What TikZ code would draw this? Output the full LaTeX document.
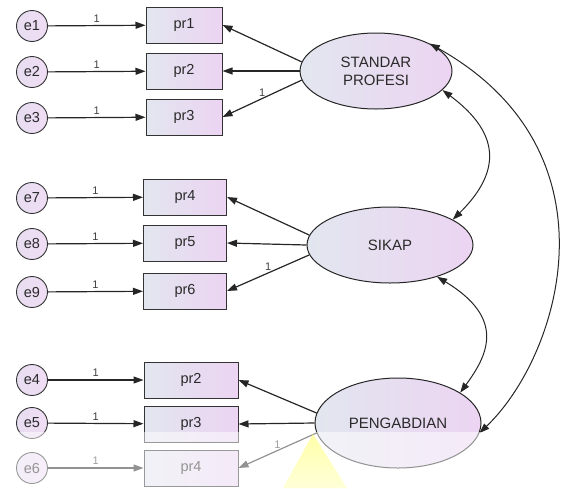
\documentclass[tikz,border=0pt]{standalone}
\usepackage{fontspec}
\setmainfont{Liberation Sans}
\usetikzlibrary{arrows.meta,shapes.geometric}
\definecolor{lblue}{HTML}{E2E6EF}
\definecolor{lpurp}{HTML}{ECD4F2}
\definecolor{txt}{HTML}{2A2A2A}
\begin{document}
\begin{tikzpicture}[x=1pt,y=-1pt,
  every node/.style={text=txt},
  err/.style={circle, draw=black!80, line width=0.9pt, minimum size=31pt, inner sep=0pt,
    left color=lblue!50!lpurp, right color=lpurp!80!white, font=\fontsize{14.5}{16}\selectfont},
  obs/.style={rectangle, draw=black!80, line width=1pt, minimum height=36pt, inner sep=0pt,
    left color=lblue, right color=lpurp, font=\fontsize{14.5}{16}\selectfont},
  lat/.style={ellipse, draw=black!85, line width=1pt, inner sep=0pt, align=center,
    left color=lblue, right color=lpurp, font=\fontsize{15}{18}\selectfont},
  arr/.style={-{Triangle[length=10pt,width=7pt]}, line width=1.2pt, draw=black!85},
  cov/.style={{Triangle[length=10pt,width=7pt]}-{Triangle[length=10pt,width=7pt]}, line width=1pt, draw=black!85},
  one/.style={font=\fontsize{11}{11}\selectfont, inner sep=1.5pt, text=black!75}
]
\useasboundingbox (0,0) rectangle (564,488);

% latent variables
\node[lat, minimum width=152pt, minimum height=76pt] (sp) at (376,71) {STANDAR\\PROFESI};
\node[lat, minimum width=166pt, minimum height=76pt] (sk) at (390,245) {SIKAP};
\node[lat, minimum width=166pt, minimum height=90pt] (pg) at (398,423) {PENGABDIAN};

% top group
\node[obs, minimum width=76pt] (p1) at (184,25) {pr1};
\node[obs, minimum width=76pt] (p2) at (184,71) {pr2};
\node[obs, minimum width=76pt] (p3) at (184,117) {pr3};
\node[err] (e1) at (32,26) {e1};
\node[err] (e2) at (32,72) {e2};
\node[err] (e3) at (32,118) {e3};

% middle group
\node[obs, minimum width=83pt] (p4) at (185,197) {pr4};
\node[obs, minimum width=83pt] (p5) at (185,243) {pr5};
\node[obs, minimum width=83pt] (p6) at (185,291) {pr6};
\node[err] (e7) at (32,198) {e7};
\node[err] (e8) at (32,244) {e8};
\node[err] (e9) at (32,292) {e9};

% bottom group
\node[obs, minimum width=94pt] (q2) at (191,380) {pr2};
\node[obs, minimum width=94pt] (q3) at (191,424) {pr3};
\node[obs, minimum width=94pt] (q4) at (191,468) {pr4};
\node[err] (e4) at (32,380) {e4};
\node[err] (e5) at (32,423) {e5};
\node[err] (e6) at (32,468) {e6};

% error arrows
\foreach \e/\p in {e1/p1,e2/p2,e3/p3,e7/p4,e8/p5,e9/p6,e4/q2,e5/q3,e6/q4}
  \draw[arr] (\e) -- node[one, above=1pt]{1} (\p);

% loadings
\draw[arr] (sp.173) -- (p1.east);
\draw[arr] (sp.180) -- (p2.east);
\draw[arr] (sp.187) -- node[one, above]{1} (p3.east);
\draw[arr] (sk.173) -- (p4.east);
\draw[arr] (sk.180) -- (p5.east);
\draw[arr] (sk.187) -- node[one, above]{1} (p6.east);
\draw[arr] (pg.173) -- (q2.east);
\draw[arr] (pg.180) -- (q3.east);
\draw[arr] (pg.187) -- node[one, above]{1} (q4.east);

% covariances
\draw[cov] (sp.-16) .. controls (500,133) and (502,171) .. (sk.22);
\draw[cov] (sk.-34) .. controls (507,319) and (487,356) .. (pg.26);
\draw[cov] (sp.27) .. controls (623,152) and (560,356) .. (pg.-7);

% faded lower strip and watermark
\fill[white, opacity=0.5] (0,432) rectangle (564,488);
\shade[top color=yellow!45!white, bottom color=yellow!20!white, opacity=0.75]
  (313,434) -- (347,488) -- (283,488) -- cycle;
\end{tikzpicture}
\end{document}
